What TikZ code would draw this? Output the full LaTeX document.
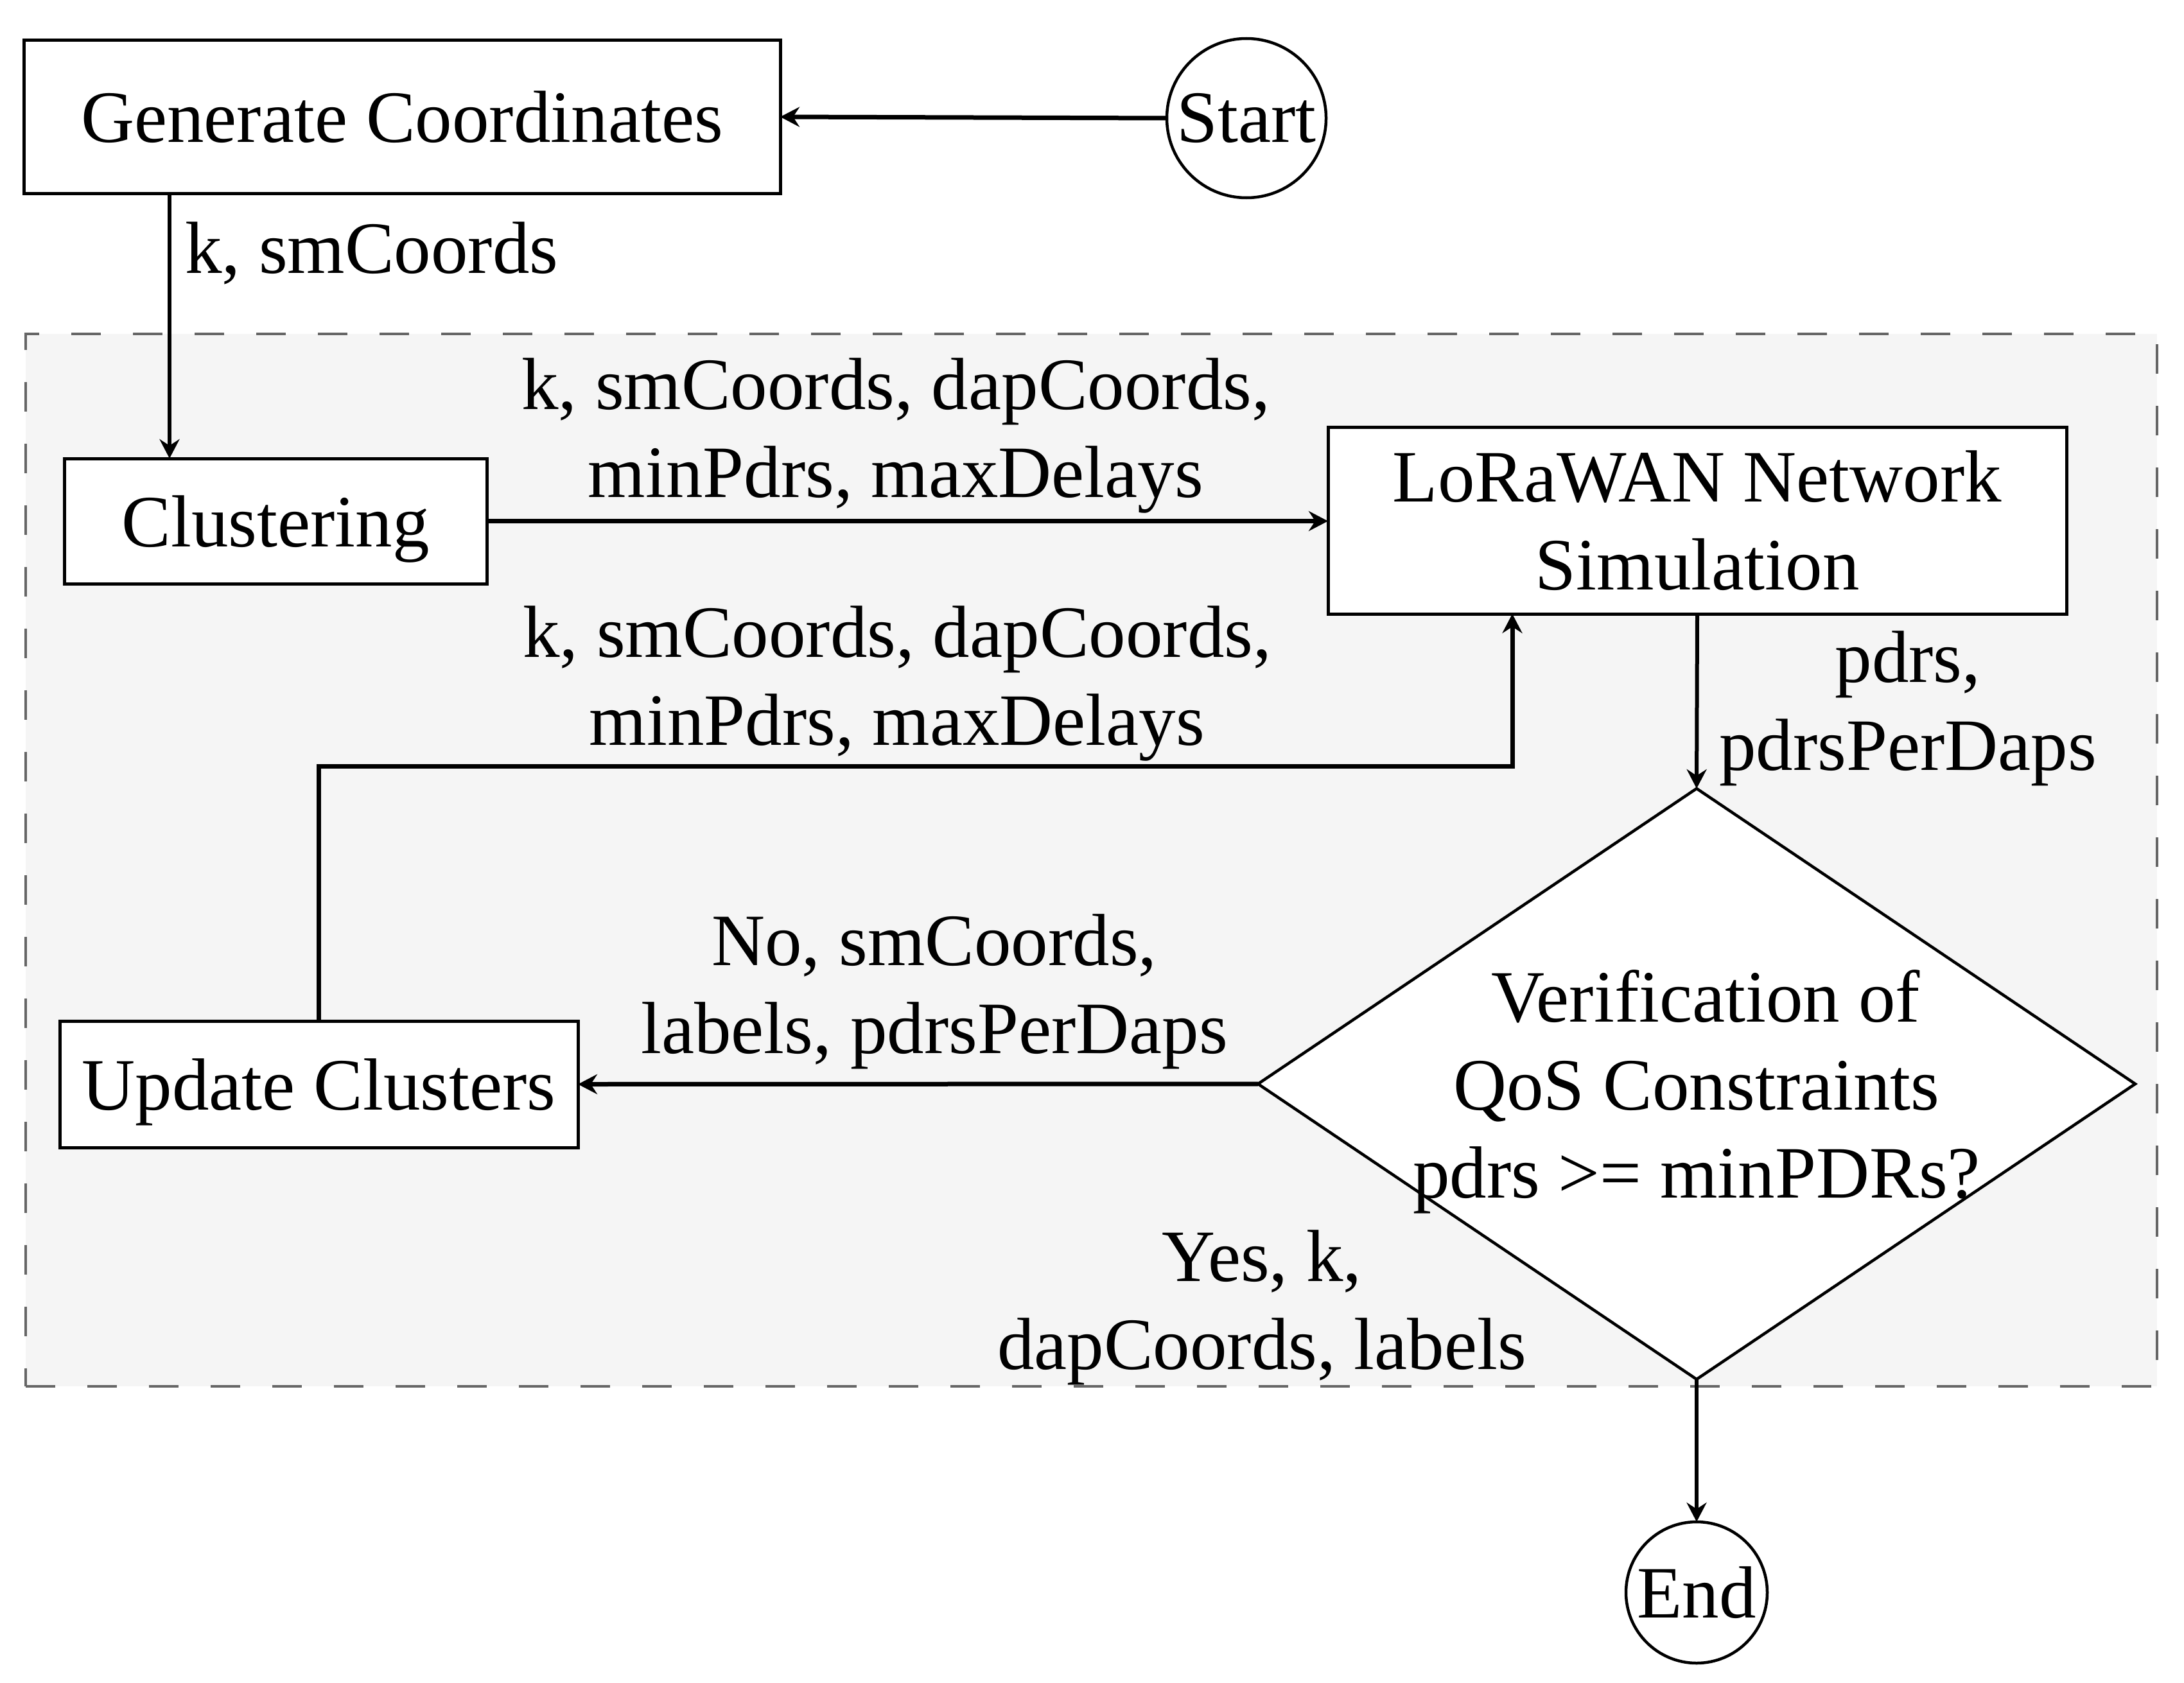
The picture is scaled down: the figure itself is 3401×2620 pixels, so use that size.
\documentclass[tikz,border=0pt]{standalone}
\usepackage{fontspec}
\setmainfont{Liberation Serif}
\usetikzlibrary{arrows.meta,shapes.geometric}
\definecolor{grpfill}{HTML}{F5F5F5}
\definecolor{grpline}{HTML}{666666}
\tikzset{
  every node/.style={font=\fontsize{115}{137}\selectfont, inner sep=0pt, outer sep=0pt},
  procbox/.style={draw=black, line width=5pt, fill=white, rectangle},
  termcircle/.style={draw=black, line width=4.5pt, fill=white, circle},
  decbox/.style={draw=black, line width=4.5pt, fill=white, diamond},
  grpbox/.style={draw=grpline, fill=grpfill, line width=4.5pt, dash pattern=on 46pt off 50pt, rectangle},
  arr/.style={line width=7pt, -{Stealth[length=30pt,width=31pt,inset=10pt]}},
  thinarr/.style={line width=6pt, -{Stealth[length=30pt,width=31pt,inset=10pt]}},
  lbl/.style={align=center}
}
\begin{document}
\begin{tikzpicture}[x=1pt,y=-1pt]
\useasboundingbox (0,0) rectangle (3401,2620);
% group region
\node[grpbox, minimum width=3319pt, minimum height=1639pt] (grp) at (1699.5,1339.5) {};
% nodes
\node[procbox, minimum width=1178pt, minimum height=238pt] (gen) at (626,182) {Generate Coordinates};
\node[termcircle, minimum size=248pt] (start) at (1941,184) {Start};
\node[procbox, minimum width=658pt, minimum height=195pt, text depth=0pt] (clus) at (429,811.5) {Clustering};
\node[procbox, minimum width=1150pt, minimum height=291pt, align=center] (lora) at (2643,810.5) {LoRaWAN Network\\Simulation};
\node[decbox, minimum width=1366pt, minimum height=920pt] (qos) at (2642,1688) {};
\node[lbl] (qostext) at (2642,1700) {\hspace*{28pt}Verification of\\QoS Constraints\\pdrs >= minPDRs?};
\node[procbox, minimum width=807pt, minimum height=197pt, text depth=0pt] (upd) at (496.5,1688.5) {Update Clusters};
\node[termcircle, minimum size=220pt] (end) at (2642,2480) {End};
% helper coordinates
\coordinate (c1) at (264,0);
\coordinate (c2) at (2355,1193);
% connectors
\draw[arr] (start.west) -- (gen.east);
\draw[thinarr] (gen.south -| c1) -- (clus.north -| c1);
\draw[arr] (clus.east) -- (clus.east -| lora.west);
\draw[arr] (upd.north) |- (c2) -- (lora.south -| c2);
\draw[thinarr] (lora.south) -- (qos.north);
\draw[arr] (qos.west) -- (upd.east);
\draw[thinarr] (qos.south) -- (end.north);
% labels
\node[anchor=west] (l0) at (288,394) {k, smCoords};
\node[lbl] (l1) at (1395,679) {k, smCoords, dapCoords,\\minPdrs, maxDelays};
\node[lbl] (l2) at (1397,1064) {k, smCoords, dapCoords,\\minPdrs, maxDelays};
\node[lbl] (l3) at (2971,1103) {pdrs,\\pdrsPerDaps};
\node[lbl] (l4) at (1455,1544) {No, smCoords,\\labels, pdrsPerDaps};
\node[lbl] (l5) at (1965,2036) {Yes, k,\\dapCoords, labels};
\end{tikzpicture}
\end{document}
